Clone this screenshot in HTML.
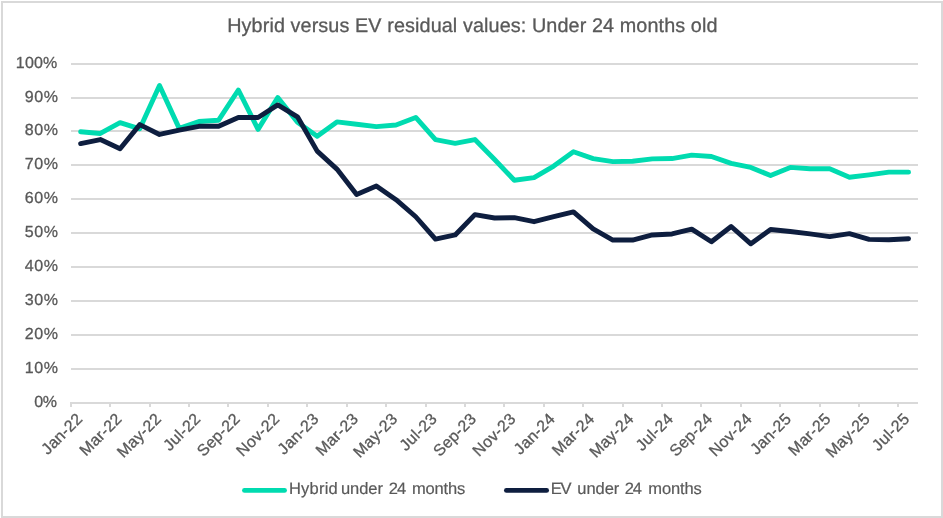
<!DOCTYPE html>
<html lang="en">
<head>
<meta charset="utf-8">
<title>Hybrid versus EV residual values: Under 24 months old</title>
<style>
html,body{margin:0;padding:0;background:#fff;}
body{width:943px;height:518px;overflow:hidden;}
svg{display:block;}
text{font-family:"Liberation Sans",Arial,Helvetica,sans-serif;fill:#595959;stroke:#595959;stroke-width:0.3px;stroke-linejoin:round;text-rendering:geometricPrecision;}
</style>
</head>
<body>
<svg width="943" height="518" viewBox="0 0 943 518">
<rect x="0" y="0" width="943" height="518" fill="#ffffff"/>
<rect x="2" y="2" width="940" height="515" fill="none" stroke="#d9d9d9" stroke-width="2"/>
<g fill="#d9d9d9" shape-rendering="crispEdges">
<rect x="70" y="402" width="848" height="2"/>
<rect x="71" y="368" width="847" height="2"/>
<rect x="71" y="334" width="847" height="2"/>
<rect x="71" y="300" width="847" height="2"/>
<rect x="71" y="266" width="847" height="2"/>
<rect x="71" y="232" width="847" height="2"/>
<rect x="71" y="198" width="847" height="2"/>
<rect x="71" y="164" width="847" height="2"/>
<rect x="71" y="130" width="847" height="2"/>
<rect x="71" y="97" width="847" height="2"/>
<rect x="71" y="63" width="847" height="2"/>
<rect x="70" y="402" width="2" height="5"/>
<rect x="109" y="402" width="2" height="5"/>
<rect x="149" y="402" width="2" height="5"/>
<rect x="188" y="402" width="2" height="5"/>
<rect x="227" y="402" width="2" height="5"/>
<rect x="267" y="402" width="2" height="5"/>
<rect x="306" y="402" width="2" height="5"/>
<rect x="346" y="402" width="2" height="5"/>
<rect x="385" y="402" width="2" height="5"/>
<rect x="425" y="402" width="2" height="5"/>
<rect x="464" y="402" width="2" height="5"/>
<rect x="503" y="402" width="2" height="5"/>
<rect x="543" y="402" width="2" height="5"/>
<rect x="582" y="402" width="2" height="5"/>
<rect x="622" y="402" width="2" height="5"/>
<rect x="661" y="402" width="2" height="5"/>
<rect x="700" y="402" width="2" height="5"/>
<rect x="740" y="402" width="2" height="5"/>
<rect x="779" y="402" width="2" height="5"/>
<rect x="819" y="402" width="2" height="5"/>
<rect x="858" y="402" width="2" height="5"/>
<rect x="897" y="402" width="2" height="5"/>
</g>
<g font-size="16.0" letter-spacing="0.15">
<text x="57.40" y="68.00" text-anchor="end" letter-spacing="0.15">100%</text>
<text x="58.41" y="102.00" text-anchor="end" letter-spacing="0.53">90%</text>
<text x="58.41" y="135.00" text-anchor="end" letter-spacing="0.53">80%</text>
<text x="58.41" y="169.00" text-anchor="end" letter-spacing="0.53">70%</text>
<text x="58.41" y="203.00" text-anchor="end" letter-spacing="0.53">60%</text>
<text x="58.41" y="237.00" text-anchor="end" letter-spacing="0.53">50%</text>
<text x="58.41" y="271.00" text-anchor="end" letter-spacing="0.53">40%</text>
<text x="58.41" y="305.00" text-anchor="end" letter-spacing="0.53">30%</text>
<text x="58.41" y="339.00" text-anchor="end" letter-spacing="0.53">20%</text>
<text x="58.41" y="373.00" text-anchor="end" letter-spacing="0.53">10%</text>
<text x="56.44" y="407.00" text-anchor="end" letter-spacing="-0.44">0%</text>
</g>
<g font-size="16.0" text-anchor="end" letter-spacing="0.25" style="stroke-width:0.0px">
<text transform="translate(83.45 419.80) rotate(-45)">Jan-22</text>
<text transform="translate(122.83 419.80) rotate(-45)">Mar-22</text>
<text transform="translate(162.21 419.80) rotate(-45)">May-22</text>
<text transform="translate(201.59 419.80) rotate(-45)">Jul-22</text>
<text transform="translate(240.97 419.80) rotate(-45)">Sep-22</text>
<text transform="translate(280.35 419.80) rotate(-45)">Nov-22</text>
<text transform="translate(319.73 419.80) rotate(-45)">Jan-23</text>
<text transform="translate(359.11 419.80) rotate(-45)">Mar-23</text>
<text transform="translate(398.49 419.80) rotate(-45)">May-23</text>
<text transform="translate(437.87 419.80) rotate(-45)">Jul-23</text>
<text transform="translate(477.25 419.80) rotate(-45)">Sep-23</text>
<text transform="translate(516.64 419.80) rotate(-45)">Nov-23</text>
<text transform="translate(556.02 419.80) rotate(-45)">Jan-24</text>
<text transform="translate(595.40 419.80) rotate(-45)">Mar-24</text>
<text transform="translate(634.78 419.80) rotate(-45)">May-24</text>
<text transform="translate(674.16 419.80) rotate(-45)">Jul-24</text>
<text transform="translate(713.54 419.80) rotate(-45)">Sep-24</text>
<text transform="translate(752.92 419.80) rotate(-45)">Nov-24</text>
<text transform="translate(792.30 419.80) rotate(-45)">Jan-25</text>
<text transform="translate(831.68 419.80) rotate(-45)">Mar-25</text>
<text transform="translate(871.06 419.80) rotate(-45)">May-25</text>
<text transform="translate(910.45 419.80) rotate(-45)">Jul-25</text>
</g>
<polyline points="80.65,131.75 100.36,133.45 120.07,122.64 139.79,128.85 159.50,85.54 179.21,128.36 198.92,121.56 218.63,120.21 238.35,89.99 258.06,129.37 277.77,97.46 297.48,122.24 317.19,136.16 336.91,121.90 356.62,124.28 376.33,126.66 396.04,124.96 415.75,117.49 435.47,139.56 455.18,143.29 474.89,139.56 494.60,159.59 514.31,180.30 534.03,177.58 553.74,166.04 573.45,151.78 593.16,158.57 612.87,161.63 632.59,161.29 652.30,158.91 672.01,158.57 691.72,155.18 711.43,156.47 731.15,163.32 750.86,167.40 770.57,175.55 790.28,167.40 809.99,168.76 829.71,168.76 849.42,177.24 869.13,174.87 888.84,172.15 908.55,172.15" fill="none" stroke="#00dbb0" stroke-width="4.9" stroke-linejoin="round" stroke-linecap="round"/>
<polyline points="80.65,143.63 100.36,139.56 120.07,148.68 139.79,124.62 159.50,134.47 179.21,130.05 198.92,126.32 218.63,126.32 238.35,117.49 258.06,117.49 277.77,104.93 297.48,116.81 317.19,151.10 336.91,169.10 356.62,194.56 376.33,186.07 396.04,199.65 415.75,216.75 435.47,239.03 455.18,234.96 474.89,214.59 494.60,217.98 514.31,217.64 534.03,221.72 553.74,216.63 573.45,211.87 593.16,228.85 612.87,240.05 632.59,240.05 652.30,234.96 672.01,233.94 691.72,229.13 711.43,241.75 731.15,226.47 750.86,243.79 770.57,229.53 790.28,231.56 809.99,233.94 829.71,236.66 849.42,233.60 869.13,239.37 888.84,239.71 908.55,238.69" fill="none" stroke="#0e1e3f" stroke-width="4.9" stroke-linejoin="round" stroke-linecap="round"/>
<text x="227.2" y="32.0" font-size="19.8" textLength="490.3" lengthAdjust="spacing">Hybrid versus EV residual values: Under 24 months old</text>
<line x1="244.5" y1="490.4" x2="284.5" y2="490.4" stroke="#00dbb0" stroke-width="4.9" stroke-linecap="round"/>
<text y="493.9" font-size="16.5" style="stroke-width:0.2px"><tspan x="289.0" letter-spacing="0.2">Hybrid </tspan><tspan x="340.95" letter-spacing="-0.05">under </tspan><tspan x="388.87" letter-spacing="-1.0">24 </tspan><tspan x="411.9" letter-spacing="-0.16">months</tspan></text>
<line x1="506.45" y1="490.4" x2="546.6" y2="490.4" stroke="#0e1e3f" stroke-width="4.9" stroke-linecap="round"/>
<text y="493.9" font-size="16.5" style="stroke-width:0.2px"><tspan x="550.72" letter-spacing="-1.2">EV </tspan><tspan x="577.34" letter-spacing="-0.05">under </tspan><tspan x="624.67" letter-spacing="-1.0">24 </tspan><tspan x="648.35" letter-spacing="-0.16">months</tspan></text>
</svg>
</body>
</html>
